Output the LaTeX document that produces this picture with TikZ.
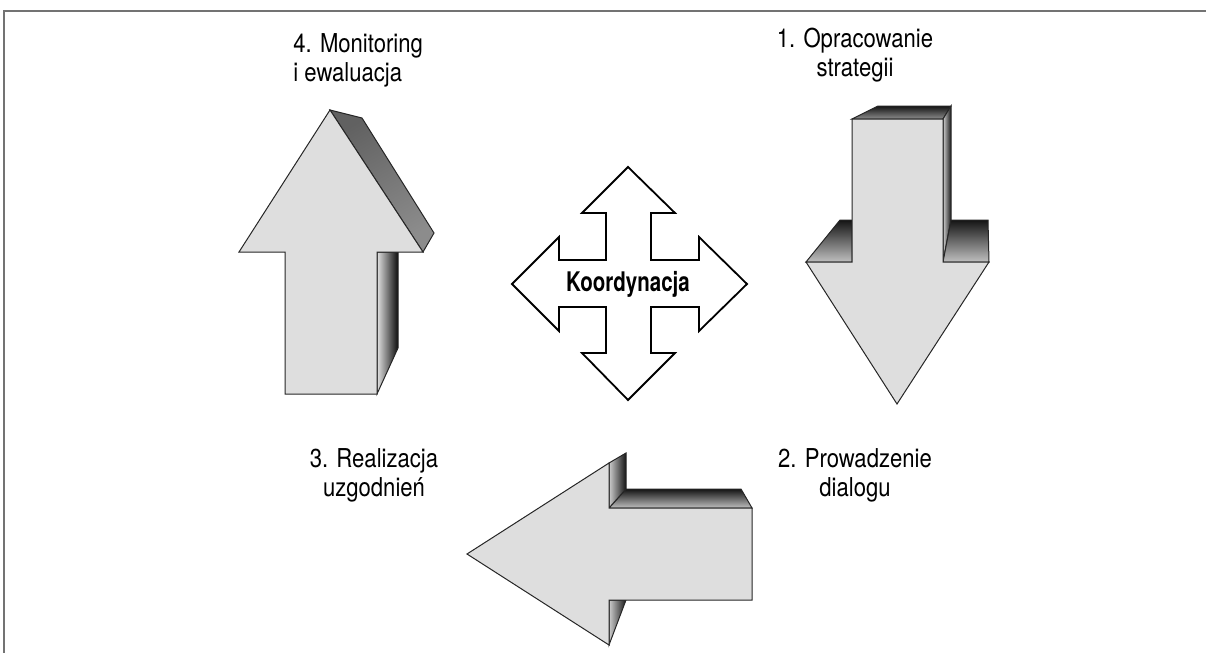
\documentclass[tikz,border=0pt]{standalone}
\usepackage{fontspec}
\setmainfont{TeX Gyre Heros}[FakeStretch=0.85]
\newfontfamily\koordfont{TeX Gyre Heros}[FakeStretch=0.76]
\begin{document}
\begin{tikzpicture}[x=0.5pt, y=-0.5pt]

        % Styles for faces and texts
        \tikzset{front/.style={fill=black!13, draw=black!85, line width=0.5pt, line join=miter},
                 side/.style={draw=black!85, line width=0.5pt, line join=miter},
                 phase/.style={font=\fontsize{13}{14.5}\selectfont, inner sep=0pt, text=black}}

        \useasboundingbox (0,0) rectangle (1206,653);

        % Frame (top and left edge only)
        \draw[black!55, line width=1pt] (1206,11) -- (4,11) -- (4,653);

        % =================================================================
        % 4. UP ARROW - left
        % =================================================================

            % side faces
            \draw[side, left color=black!62, right color=black!45, shading angle=30]
                (330,110) -- (362,118) -- (434,233) -- (423,252) -- cycle;
            \draw[side, left color=black!12, right color=black!95]
                (377,252) -- (398,252) -- (398,348) -- (377,394) -- cycle;
            % front face
            \draw[front] (330,110) -- (423,252) -- (377,252) -- (377,394)
                -- (285,394) -- (285,252) -- (239,252) -- cycle;

        % =================================================================
        % 1. DOWN ARROW - right
        % =================================================================

            % top of the shaft
            \draw[side, top color=black!92, bottom color=black!45]
                (852,119) -- (878,106) -- (951,106) -- (943,119) -- cycle;
            \draw[side, left color=black!20, right color=black!90]
                (943,119) -- (951,106) -- (951,220) -- (943,262) -- cycle;
            % shoulders
            \draw[side, top color=black!92, bottom color=black!25]
                (806,262) -- (840,220) -- (852,220) -- (852,262) -- cycle;
            \draw[side, top color=black!92, bottom color=black!25]
                (943,262) -- (951,220) -- (988,220) -- (989,262) -- cycle;
            % front face
            \draw[front] (852,119) -- (943,119) -- (943,262) -- (989,262)
                -- (897,404) -- (806,262) -- (852,262) -- cycle;

        % =================================================================
        % 3. LEFT ARROW - bottom
        % =================================================================

            \draw[side, top color=black!92, bottom color=black!25]
                (609,508) -- (626,489) -- (741,489) -- (752,508) -- cycle;
            \draw[side, left color=black!20, right color=black!92]
                (609,463) -- (626,453) -- (626,489) -- (609,508) -- cycle;
            \draw[side, left color=black!20, right color=black!90]
                (609,600) -- (626,600) -- (609,645) -- cycle;
            % front face
            \draw[front] (467,554) -- (609,463) -- (609,508) -- (752,508)
                -- (752,600) -- (609,600) -- (609,645) -- cycle;

        % =================================================================
        % CENTRE - four way arrow
        % =================================================================

        \begin{scope}[shift={(628,284)}]
            \draw[fill=white, draw=black, line width=0.9pt, line join=miter]
                (0,-117) -- (47,-71) -- (23,-71) -- (23,-24) -- (71,-24) -- (71,-47)
                -- (119,0) -- (71,47) -- (71,23) -- (23,23) -- (23,69) -- (47,69)
                -- (0,116) -- (-46,69) -- (-22,69) -- (-22,23) -- (-69,23) -- (-69,47)
                -- (-116,0) -- (-69,-47) -- (-69,-24) -- (-22,-24) -- (-22,-71)
                -- (-46,-71) -- cycle;
            \node[font=\koordfont\fontsize{13.5}{14}\bfseries, inner sep=0pt] (koord) at (0,0) {Koordynacja};
        \end{scope}

        % Labels
        \node[phase, anchor=north west, align=left] (monitoring) at (293,33) {4. Monitoring\\i ewaluacja};
        \node[phase, anchor=north, align=center] (strategia) at (855,28) {1. Opracowanie\\strategii};
        \node[phase, anchor=north, align=center] (realizacja) at (374,448) {3. Realizacja\\uzgodnień};
        \node[phase, anchor=north, align=center] (dialog) at (855,448) {2. Prowadzenie\\dialogu};

\end{tikzpicture}
\end{document}
